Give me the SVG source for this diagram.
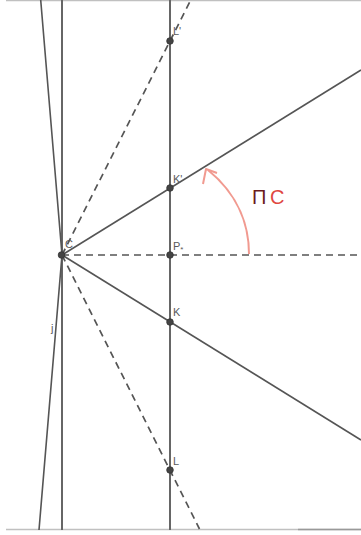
<svg xmlns="http://www.w3.org/2000/svg" width="361" height="535" viewBox="0 0 361 535">
<style>
.ln{stroke:#555;stroke-width:1.6;fill:none}
.vl{stroke:#666;stroke-width:2;fill:none}
.ds{stroke:#555;stroke-width:1.7;fill:none;stroke-dasharray:7 5}
.pt{fill:#444;stroke:#333;stroke-width:0.8}
.lb{font-family:"Liberation Sans",Arial,sans-serif;font-size:11px;fill:#5a5a5a}
.frame{stroke:#c0c0c0;stroke-width:1.5}
</style>
<rect width="361" height="535" fill="#fff"/>
<g id="frame">
<line class="frame" x1="6" y1="0.5" x2="361" y2="0.5"/>
<line class="frame" x1="6" y1="529.5" x2="361" y2="529.5"/>
<line x1="298" y1="529.5" x2="361" y2="529.5" stroke="#999" stroke-width="1.5"/>
</g>
<g id="connectors">
<line class="vl" x1="62" y1="0" x2="62" y2="530"/>
<line class="vl" x1="170" y1="0" x2="170" y2="530"/>
<polyline class="ln" points="40.7,0 62,255 39,530"/>
<line class="ln" x1="62" y1="255" x2="361" y2="70"/>
<line class="ln" x1="62" y1="255" x2="361" y2="440"/>
<line class="ds" x1="62" y1="255" x2="361" y2="255"/>
<line class="ds" x1="62" y1="255" x2="190.7" y2="0"/>
<line class="ds" x1="62" y1="255" x2="199.5" y2="529"/>
</g>
<g id="arrow">
<path d="M249,254 C249,228 240,196 208,170" stroke="#f19a90" stroke-width="2" fill="none"/>
<path d="M203,184 L206,169 L217,173" stroke="#f19a90" stroke-width="2" fill="none" stroke-linejoin="round"/>
<text y="204" font-family="Liberation Sans,Arial,sans-serif" font-size="20"><tspan x="252" fill="#6b1c1c">П</tspan><tspan x="270" fill="#e0473f">С</tspan></text>
</g>
<g id="C"><circle class="pt" cx="61.5" cy="255" r="3.3"/><text class="lb" x="65" y="248">C</text><text class="lb" x="51" y="332">j</text></g>
<g id="Lp"><circle class="pt" cx="170" cy="41" r="3.3"/><text class="lb" x="173" y="35">L'</text></g>
<g id="Kp"><circle class="pt" cx="170" cy="188" r="3.3"/><text class="lb" x="173" y="183">K'</text></g>
<g id="Pstar"><circle class="pt" cx="170" cy="255" r="3.3"/><text class="lb" x="173" y="250">P<tspan font-size="8" dy="2">*</tspan></text></g>
<g id="K"><circle class="pt" cx="170" cy="322" r="3.3"/><text class="lb" x="173" y="316">K</text></g>
<g id="L"><circle class="pt" cx="170" cy="470" r="3.3"/><text class="lb" x="173" y="465">L</text></g>
</svg>
